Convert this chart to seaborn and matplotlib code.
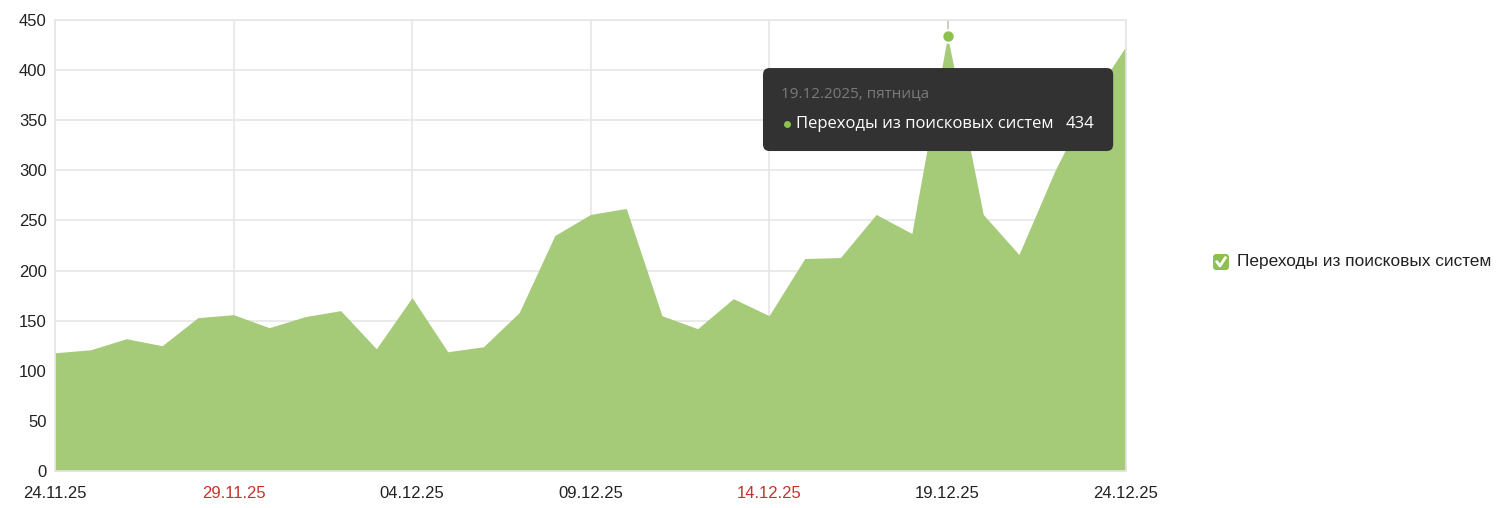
import matplotlib.pyplot as plt
import numpy as np
import pandas as pd
import seaborn as sns
from matplotlib.patches import FancyBboxPatch

# данные: переходы из поисковых систем по дням
dates = pd.date_range("2025-11-24", "2025-12-24", freq="D")
visits = [118, 121, 132, 125, 153, 156, 143, 154, 160, 122,
          173, 119, 124, 158, 235, 256, 262, 155, 142, 172,
          155, 212, 213, 256, 237, 434, 256, 216, 299, 370, 424]
tick_dates = ["2025-11-24", "2025-11-29", "2025-12-04", "2025-12-09",
              "2025-12-14", "2025-12-19", "2025-12-24"]
tick_labels = ["24.11.25", "29.11.25", "04.12.25", "09.12.25",
               "14.12.25", "19.12.25", "24.12.25"]
weekend_labels = ["29.11.25", "14.12.25"]
series_name = "Переходы из поисковых систем"
hover_date = "2025-12-19"
hover_title = "19.12.2025, пятница"

df = pd.DataFrame({"date": dates, "visits": visits})

sns.set_style("white")
plt.rcParams["font.family"] = ["Liberation Sans", "DejaVu Sans"]

green = "#a5ca78"
dot_green = "#8cc051"
grid_c = "#e6e6e6"

fig = plt.figure(figsize=(15, 5.08), dpi=100)
ax = fig.add_axes([0.0367, 0.0728, 0.714, 0.8878])

# площадь
sns.lineplot(data=df, x="date", y="visits", ax=ax, color=green, linewidth=0)
ax.fill_between(df["date"], df["visits"], color=green, linewidth=0, zorder=2)

ax.set_xlim(dates[0], dates[-1])
ax.set_ylim(0, 450)
ax.set_yticks(np.arange(0, 451, 50))
ax.set_xticks(pd.to_datetime(tick_dates))
ax.set_xticklabels(tick_labels)
ax.set_xlabel("")
ax.set_ylabel("")

ax.grid(True, color=grid_c, linewidth=1.2, zorder=0)
ax.set_axisbelow(True)
for side in ["top", "left", "right", "bottom"]:
    ax.spines[side].set_color(grid_c)
    ax.spines[side].set_linewidth(1.2)
ax.tick_params(axis="both", length=0, labelsize=12, colors="#222222")
ax.tick_params(axis="x", pad=11)
ax.tick_params(axis="y", pad=6)
for lbl in ax.get_xticklabels():
    if lbl.get_text() in weekend_labels:
        lbl.set_color("#c8312b")

# линия наведения и точка
hx = pd.Timestamp(hover_date)
hv = df.loc[df["date"] == hx, "visits"].iloc[0]
ax.axvline(hx, color="#c8c8c8", linewidth=1.2, zorder=1)
ax.plot([hx], [hv], "o", color=dot_green, markersize=9,
        markeredgecolor="white", markeredgewidth=1.5, zorder=5, clip_on=False)

# подсказка
box = FancyBboxPatch((0.661, 0.7095), 0.327, 0.184,
                     boxstyle="round,pad=0,rounding_size=0.006",
                     transform=ax.transAxes, facecolor="#323232",
                     edgecolor="none", zorder=6, mutation_aspect=2.5)
ax.add_patch(box)
ax.text(0.678, 0.837, hover_title, transform=ax.transAxes, color="#7a7a7a",
        fontsize=11, va="center", ha="left", zorder=7,
        family=["Open Sans", "DejaVu Sans"])
ax.plot([0.6835], [0.769], "o", transform=ax.transAxes, color=dot_green,
        markersize=5, markeredgewidth=0, zorder=7)
ax.text(0.692, 0.769, series_name, transform=ax.transAxes, color="white",
        fontsize=12, va="center", ha="left", zorder=7,
        family=["Open Sans", "DejaVu Sans"])
ax.text(0.970, 0.769, str(hv), transform=ax.transAxes, color="white",
        fontsize=12, va="center", ha="right", zorder=7,
        family=["Open Sans", "DejaVu Sans"])

# легенда с галочкой
cb = FancyBboxPatch((0.8087, 0.4685), 0.0106, 0.0315,
                    boxstyle="round,pad=0,rounding_size=0.002",
                    transform=fig.transFigure, facecolor=dot_green,
                    edgecolor="none", mutation_aspect=3)
fig.patches.append(cb)
fig.lines.append(plt.Line2D([0.8111, 0.8133, 0.8170], [0.4850, 0.4765, 0.4930],
                            transform=fig.transFigure, color="white",
                            linewidth=2, solid_capstyle="round",
                            solid_joinstyle="round"))
fig.text(0.8247, 0.4843, series_name, fontsize=12.4, color="#222222",
         va="center", ha="left")

fig.savefig("out.png", dpi=100)
